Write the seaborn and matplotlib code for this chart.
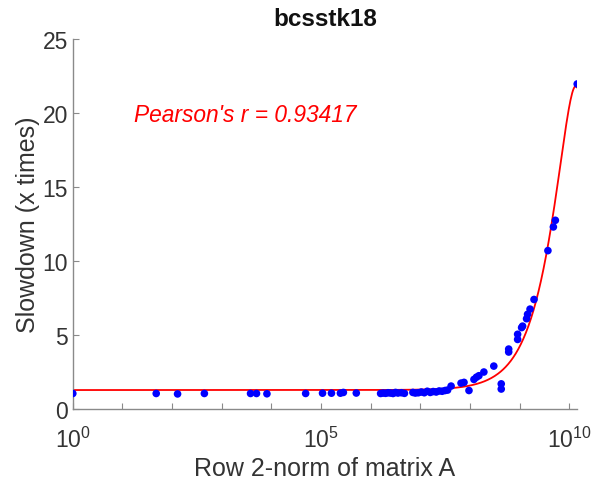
import numpy as np
import pandas as pd
import matplotlib
matplotlib.use("Agg")
import matplotlib.pyplot as plt
import matplotlib.ticker as mticker
import seaborn as sns

# Row 2-norm (log10) and measured slowdown for each sample
log_norm = [0.00, 1.68, 2.11, 2.65, 3.58, 3.70, 3.91, 4.69, 5.03, 5.21, 5.39, 5.45, 5.71,
            6.20, 6.25, 6.30, 6.35, 6.40, 6.45, 6.50, 6.55, 6.62, 6.68,
            6.85, 6.90, 6.96, 7.02, 7.08, 7.14, 7.20, 7.26, 7.32, 7.38, 7.44, 7.50, 7.55,
            7.62, 7.82, 7.88, 7.98, 8.08, 8.13, 8.18, 8.28, 8.48, 8.63, 8.63,
            8.78, 8.78, 8.96, 8.96, 9.04, 9.06, 9.14, 9.16, 9.21, 9.29,
            9.57, 9.68, 9.72, 10.16]
slowdown = [1.05, 1.05, 1.02, 1.05, 1.05, 1.05, 1.03, 1.05, 1.07, 1.07, 1.07, 1.12, 1.08,
            1.05, 1.08, 1.06, 1.10, 1.08, 1.05, 1.12, 1.08, 1.10, 1.06,
            1.12, 1.08, 1.10, 1.15, 1.10, 1.20, 1.12, 1.18, 1.15, 1.22, 1.20, 1.25, 1.28,
            1.55, 1.75, 1.80, 1.25, 2.00, 2.15, 2.25, 2.50, 2.90, 1.70, 1.35,
            3.85, 4.05, 4.70, 5.05, 5.50, 5.60, 6.10, 6.40, 6.75, 7.40,
            10.70, 12.30, 12.75, 21.96]

title = "bcsstk18"
xlabel = "Row 2-norm of matrix A"
ylabel = "Slowdown (x times)"
pearson_label = "Pearson's r = 0.93417"

norm = 10.0 ** np.array(log_norm)
df = pd.DataFrame({"norm": norm, "slowdown": slowdown})

# Quadratic least-squares fit in the linear norm
coef = np.polyfit(df["norm"], df["slowdown"], 2)
grid = np.logspace(np.log10(norm.min()), np.log10(norm.max()), 600)
fit_df = pd.DataFrame({"norm": grid, "fit": np.polyval(coef, grid)})

sns.set_style("ticks")
plt.rcParams["font.family"] = ["Liberation Sans", "DejaVu Sans"]
plt.rcParams["mathtext.default"] = "regular"

fig = plt.figure(figsize=(5.92, 4.85), dpi=100)
ax = fig.add_axes([0.123, 0.1546, 0.852, 0.763])

sns.lineplot(data=fit_df, x="norm", y="fit", ax=ax, color="#ff0000", lw=1.3, zorder=2)
sns.scatterplot(data=df, x="norm", y="slowdown", ax=ax, color="#0000ff",
                s=30, edgecolor="none", zorder=3)

ax.set_xscale("log")
ax.set_xlim(norm.min(), norm.max())
ax.set_ylim(0, 25)
ax.set_yticks([0, 5, 10, 15, 20, 25])
ax.xaxis.set_major_locator(mticker.FixedLocator([1e0, 1e5, 1e10]))
ax.xaxis.set_minor_locator(mticker.FixedLocator([10.0 ** k for k in range(1, 10) if k != 5]))
ax.xaxis.set_minor_formatter(mticker.NullFormatter())

axis_grey = "#8a8a8a"
text_grey = "#333333"
for side in ("top", "right"):
    ax.spines[side].set_visible(False)
for side in ("left", "bottom"):
    ax.spines[side].set_color(axis_grey)
    ax.spines[side].set_linewidth(1.0)
ax.tick_params(which="both", direction="in", length=4, width=0.8, color=axis_grey,
               labelsize=16.5, labelcolor=text_grey)
ax.tick_params(axis="x", which="major", pad=13)

ax.set_xlabel(xlabel, fontsize=18, color=text_grey, labelpad=3)
ax.set_ylabel(ylabel, fontsize=18, color=text_grey, labelpad=2)
ax.set_title(title, fontsize=17.5, fontweight="bold", color="#111111", pad=10)

ax.text(10 ** 1.23, 19.9, pearson_label, color="#ff0000", fontsize=16.4,
        fontstyle="italic", ha="left", va="center")

fig.savefig("out.png", dpi=100)
